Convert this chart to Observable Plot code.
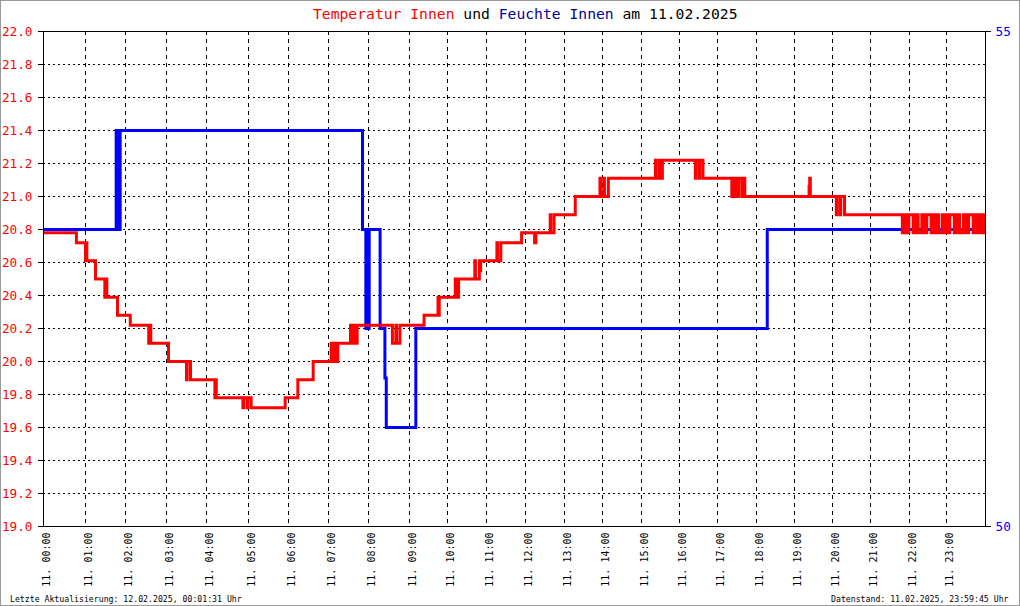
<!DOCTYPE html>
<html>
<head>
<meta charset="utf-8">
<script src="https://cdn.jsdelivr.net/npm/d3@7"></script>
<script src="https://cdn.jsdelivr.net/npm/@observablehq/plot@0.6"></script>
<style>
  html, body { margin: 0; padding: 0; background: #fff; }
  #chart { position: relative; width: 1020px; height: 606px; }
  svg { display: block; }
</style>
</head>
<body>
<div id="chart"></div>
<script>
// ---------- data ----------
const chartTitle = [
  ["Temperatur Innen", "#ff0000"],
  [" und ", "#000000"],
  ["Feuchte Innen", "#000099"],
  [" am 11.02.2025", "#000000"]
];
const footerLeft = "Letzte Aktualisierung: 12.02.2025, 00:01:31 Uhr";
const footerRight = "Datenstand: 11.02.2025, 23:59:45 Uhr";
const dayLabel = "11.";

// hours of the day shown as ticks (0..24)
const hourTicks = [0,1,2,3,4,5,6,7,8,9,10,11,12,13,14,15,16,17,18,19,20,21,22,23,24];
// left axis (temperature, °C)
const tempTicks = [19.0,19.2,19.4,19.6,19.8,20.0,20.2,20.4,20.6,20.8,21.0,21.2,21.4,21.6,21.8,22.0];
const tempDomain = [19, 22];
// right axis (humidity, %)
const humidityTicks = [50, 55];
const humidityDomain = [50, 55];

// Temperatur Innen: [time, °C], step values
const tempReadings = [
  ["0:00",20.78],["0:47",20.72],
  ["1:00",20.61],["1:01",20.72],["1:02",20.61],
  ["1:15",20.50],
  ["1:29",20.39],["1:30",20.50],["1:32",20.39],
  ["1:48",20.28],["2:07",20.22],
  ["2:34",20.11],["2:35",20.22],["2:37",20.11],
  ["3:03",20.00],
  ["3:30",19.89],["3:31",20.00],["3:36",19.89],
  ["4:12",19.78],["4:13",19.89],["4:14",19.78],
  ["4:52",19.72],["4:53",19.78],["4:58",19.72],["4:59",19.78],["5:04",19.72],
  ["5:55",19.78],["6:14",19.89],["6:37",20.00],
  ["7:04",20.11],["7:05",20.00],["7:09",20.11],["7:10",20.00],["7:14",20.11],
  ["7:33",20.22],["7:34",20.11],["7:38",20.22],["7:39",20.11],["7:43",20.22],
  ["8:35",20.11],["8:40",20.22],["8:41",20.11],["8:46",20.22],
  ["9:23",20.28],
  ["9:45",20.39],["9:46",20.28],["9:47",20.39],
  ["10:12",20.50],["10:13",20.39],["10:17",20.50],
  ["10:42",20.61],["10:43",20.50],["10:49",20.61],["10:50",20.55],["10:51",20.61],
  ["11:16",20.72],["11:17",20.61],["11:22",20.72],
  ["11:54",20.78],["12:14",20.72],["12:16",20.78],
  ["12:38",20.89],["12:39",20.78],["12:44",20.89],
  ["13:17",21.00],
  ["13:56",21.11],["13:57",21.00],["14:02",21.11],["14:03",21.00],["14:09",21.11],
  ["15:22",21.22],["15:23",21.11],["15:28",21.22],["15:29",21.11],["15:33",21.22],
  ["16:25",21.11],["16:26",21.22],["16:31",21.11],["16:32",21.22],["16:37",21.11],
  ["17:22",21.00],["17:23",21.11],["17:27",21.00],["17:28",21.11],["17:32",21.00],["17:33",21.11],
  ["17:38",21.00],["17:39",21.11],["17:42",21.00],
  ["19:23",21.06],["19:24",21.11],["19:25",21.00],
  ["20:06",20.89],["20:07",21.00],["20:12",20.89],["20:13",21.00],["20:19",20.89],
  ["21:49",20.78],["21:51",20.89],["21:53",20.78],["21:55",20.89],["21:57",20.78],["21:59",20.89],
  ["22:06",20.78],["22:08",20.89],["22:10",20.78],["22:12",20.89],["22:14",20.78],
  ["22:20",20.89],["22:22",20.78],["22:24",20.89],["22:26",20.78],["22:28",20.89],
  ["22:35",20.78],["22:37",20.89],["22:39",20.78],["22:41",20.89],["22:43",20.78],["22:45",20.89],["22:47",20.78],
  ["22:53",20.89],["22:55",20.78],["22:57",20.89],["22:59",20.78],["23:01",20.89],["23:03",20.78],
  ["23:05",20.89],["23:12",20.78],["23:14",20.89],["23:16",20.78],["23:18",20.89],["23:20",20.78],
  ["23:26",20.89],["23:28",20.78],["23:30",20.89],["23:32",20.78],["23:34",20.89],["23:41",20.78],
  ["23:43",20.89],["23:45",20.78],["23:47",20.89],["23:49",20.78],["23:51",20.89],["23:53",20.78],
  ["23:55",20.89],["23:57",20.78],["24:00",20.78]
];

// Feuchte Innen: [time, %], step values
const humidityReadings = [
  ["0:00",53],
  ["1:46",54],["1:47",53],["1:49",54],["1:50",53],["1:52",54],
  ["7:51",53],
  ["7:56",52],["7:57",53],["7:58",52],["7:59",53],["8:00",52],["8:01",53],
  ["8:17",52],["8:24",51.5],["8:26",51],
  ["9:10",52],
  ["18:17",53],
  ["24:00",53]
];

// ---------- layout / style ----------
const W = 1020, H = 606;
const margin = {top: 31, right: 35, bottom: 80, left: 43};
// pixel positions of the hour ticks in the reference (its time axis is not uniform)
const hourTickPixels = [43,85,125,166,206,248,288,328,368,409,447,486,525,564,602,641,679,717,756,794,832,870,909,946,985];
const RED = "#ff0000", BLUE = "#0000ff";
const FONT = "DejaVu Sans Mono";

const toHours = s => { const [h, m] = s.split(":").map(Number); return h + m / 60; };
// humidity is drawn on the temperature scale (right axis 50..55 ↔ left axis 19..22)
const humToTemp = d3.scaleLinear().domain(humidityDomain).range(tempDomain);

const temp = tempReadings.map(([t, v]) => ({h: toHours(t), v}));
const hum = humidityReadings.map(([t, v]) => ({h: toHours(t), v: humToTemp(v)}));
const pad2 = n => String(n).padStart(2, "0");

const plot = Plot.plot({
  width: W,
  height: H,
  marginTop: margin.top,
  marginRight: margin.right,
  marginBottom: margin.bottom,
  marginLeft: margin.left,
  style: {background: "white", fontFamily: FONT, color: "black"},
  x: {type: "linear", domain: hourTicks, range: hourTickPixels, axis: null},
  y: {type: "linear", domain: tempDomain},
  marks: [
    Plot.ruleY(tempTicks.slice(1, -1), {stroke: "black", strokeWidth: 1, strokeDasharray: "2,3"}),
    Plot.ruleX(hourTicks.slice(1, -1), {stroke: "black", strokeWidth: 1, strokeDasharray: "4,4"}),
    Plot.line(hum, {x: "h", y: "v", curve: "step-after", stroke: BLUE, strokeWidth: 3,
      strokeLinejoin: "miter", strokeLinecap: "butt", strokeMiterlimit: 4}),
    Plot.line(temp, {x: "h", y: "v", curve: "step-after", stroke: RED, strokeWidth: 3,
      strokeLinejoin: "miter", strokeLinecap: "butt", strokeMiterlimit: 4}),
    Plot.frame({stroke: "black", strokeWidth: 1}),
    Plot.axisY(tempTicks, {anchor: "left", tickSize: 5, tickPadding: 6, fontSize: 12.7,
      tickFormat: d => d.toFixed(1), fill: RED, stroke: "black", label: null}),
    Plot.axisY(humidityTicks.map(humToTemp), {anchor: "right", tickSize: 5, tickPadding: 5, fontSize: 12.7,
      tickFormat: d => String(Math.round(humToTemp.invert(d))), fill: BLUE, stroke: "black", label: null}),
    Plot.text(hourTicks.slice(0, -1), {x: d => d, frameAnchor: "bottom", dy: 6, dx: 3, rotate: -90,
      textAnchor: "end", lineAnchor: "middle", fontSize: 10, fill: "black",
      text: d => `${dayLabel} ${pad2(d)}:00`})
  ]
});

document.getElementById("chart").appendChild(plot);

// title, footer and border added to the svg as text
const svg = d3.select(plot);
const title = svg.append("text")
  .attr("x", 313).attr("y", 18.5).attr("text-anchor", "start")
  .attr("font-family", FONT).attr("font-size", 14.7)
  .style("white-space", "pre");
chartTitle.forEach(([t, c]) => title.append("tspan").attr("fill", c).text(t));

svg.append("text").attr("x", 10).attr("y", 602).attr("text-anchor", "start")
  .attr("font-family", FONT).attr("font-size", 8.2).attr("fill", "black")
  .style("white-space", "pre").text(footerLeft);
svg.append("text").attr("x", 1008.5).attr("y", 602).attr("text-anchor", "end")
  .attr("font-family", FONT).attr("font-size", 8.2).attr("fill", "black")
  .style("white-space", "pre").text(footerRight);

svg.append("rect").attr("x", 0.5).attr("y", 0.5).attr("width", W - 1).attr("height", H - 1)
  .attr("fill", "none").attr("stroke", "#999999").attr("stroke-width", 1);
</script>
</body>
</html>
